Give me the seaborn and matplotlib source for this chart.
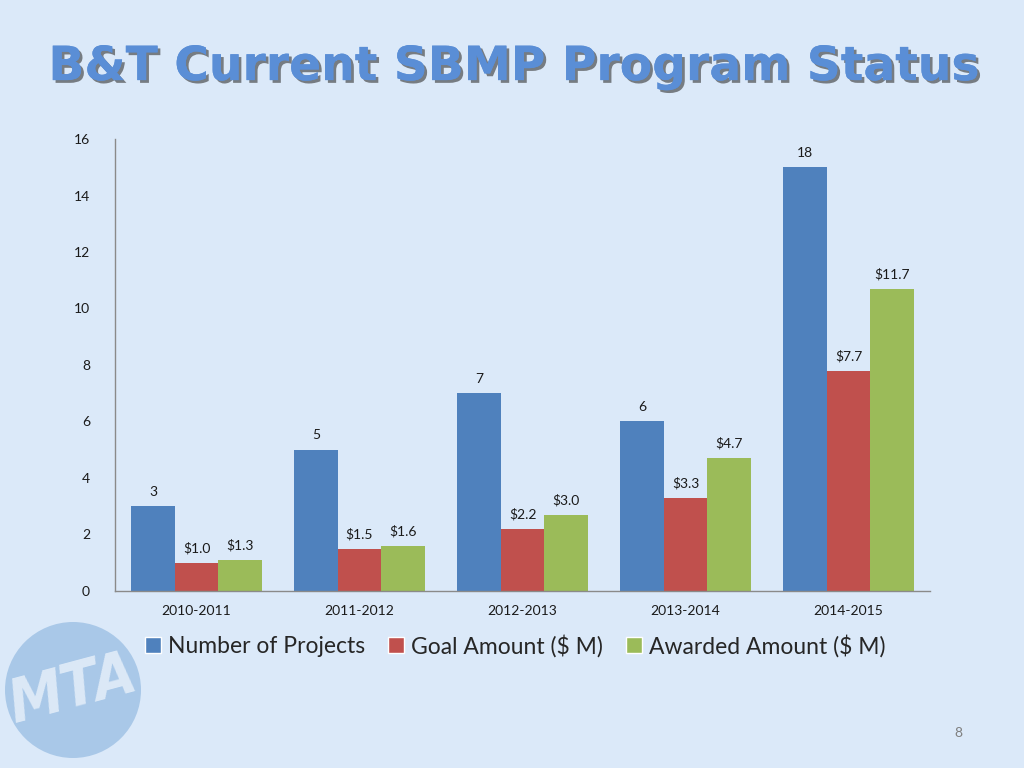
import pandas as pd
import matplotlib.pyplot as plt
import matplotlib.patheffects as pe
from matplotlib.patches import Ellipse, Patch
import seaborn as sns

# --- dados ---
anos = ['2010-2011', '2011-2012', '2012-2013', '2013-2014', '2014-2015']
series = ['Number of Projects', 'Goal Amount ($ M)', 'Awarded Amount ($ M)']

# alturas das barras (como desenhadas)
num_projetos = [3, 5, 7, 6, 15]
valor_meta = [1.0, 1.5, 2.2, 3.3, 7.8]
valor_concedido = [1.1, 1.6, 2.7, 4.7, 10.7]

# rótulos escritos sobre as barras
rotulos_projetos = ['3', '5', '7', '6', '18']
rotulos_meta = ['$1.0', '$1.5', '$2.2', '$3.3', '$7.7']
rotulos_concedido = ['$1.3', '$1.6', '$3.0', '$4.7', '$11.7']

cores = ['#4F81BD', '#C0504D', '#9BBB59']
fundo = '#DBE9F9'

df = pd.DataFrame({
    'ano': anos * 3,
    'serie': [series[0]] * 5 + [series[1]] * 5 + [series[2]] * 5,
    'valor': num_projetos + valor_meta + valor_concedido,
})

sns.set_style('white')
plt.rcParams['font.family'] = ['Lato', 'DejaVu Sans']

fig = plt.figure(figsize=(10.24, 7.68), dpi=100)
fig.patch.set_facecolor(fundo)
ax = fig.add_axes([0.1123, 0.2305, 0.796, 0.5885])
ax.set_facecolor(fundo)

sns.barplot(data=df, x='ano', y='valor', hue='serie', hue_order=series,
            palette=cores, width=0.8, saturation=1, linewidth=0, ax=ax, legend=False)

for cont, rot in zip(ax.containers, [rotulos_projetos, rotulos_meta, rotulos_concedido]):
    ax.bar_label(cont, labels=rot, padding=6, fontsize=10, color='#1a1a1a')

ax.set_ylim(0, 16)
ax.set_yticks(range(0, 17, 2))
ax.set_xlabel('')
ax.set_ylabel('')
ax.tick_params(axis='both', length=0, labelsize=10, colors='#1a1a1a')
ax.tick_params(axis='y', pad=18)
ax.tick_params(axis='x', pad=10)
for lado in ['top', 'right']:
    ax.spines[lado].set_visible(False)
for lado in ['left', 'bottom']:
    ax.spines[lado].set_color('#8a8a8a')
    ax.spines[lado].set_linewidth(1)

# legenda
handles = [Patch(facecolor=c, label=s) for c, s in zip(cores, series)]
fig.legend(handles=handles, loc='center', bbox_to_anchor=(0.503, 0.159), ncol=3,
           frameon=False, fontsize=16.5, handlelength=0.7, handleheight=0.7,
           handletextpad=0.3, columnspacing=1.0)

# título com sombra
fig.text(0.503, 0.912, 'B&T Current SBMP Program Status', ha='center', va='center',
         fontsize=34, fontweight='heavy', color='#5A8ED6', family='DejaVu Sans',
         path_effects=[pe.withSimplePatchShadow(offset=(2, -2), shadow_rgbFace='#333333', alpha=0.6),
                       pe.Normal()])

# logotipo MTA (decorativo)
logo = Ellipse((73 / 1024, 78 / 768), 2 * 68 / 1024, 2 * 68 / 768, transform=fig.transFigure,
               facecolor='#A9C8E8', edgecolor='none', zorder=0)
fig.patches.append(logo)
fig.text(73 / 1024, 78 / 768, 'MTA', ha='center', va='center', fontsize=44, fontweight='heavy',
         fontstyle='italic', color='#DCE9F7', rotation=15, family='DejaVu Sans',
         stretch='condensed')

# número da página
fig.text(0.936, 0.045, '8', ha='center', va='center', fontsize=10, color='#7f7f7f')

plt.savefig('out.png', dpi=100, facecolor=fundo)
